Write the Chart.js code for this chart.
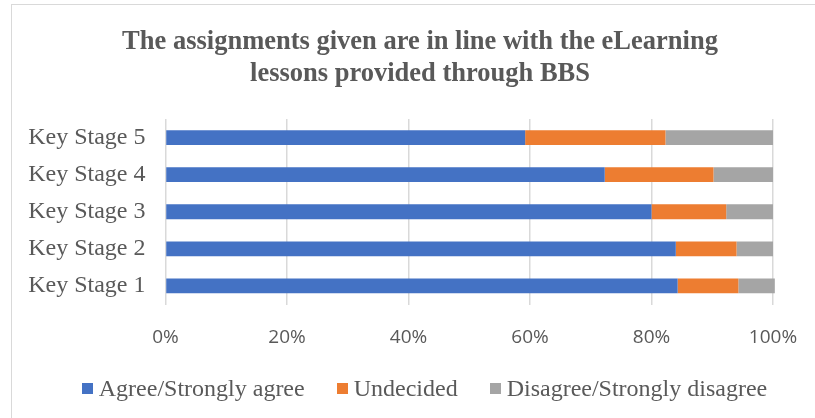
<!DOCTYPE html>
<html>
<head>
<meta charset="utf-8">
<script src="https://cdn.jsdelivr.net/npm/chart.js@4.4.1/dist/chart.umd.min.js"></script>
<style>
  body { margin: 0; background: #fff; overflow: hidden; }
  #frame { position: absolute; left: 11px; top: 4px; width: 900px; height: 500px; border: 1px solid #d9d9d9; }
  #goodCanvas1 { position: absolute; left: 0; top: 0; }
  #legend { position: absolute; left: 0; top: 369px; width: 825px; display: flex; justify-content: center;
            font: 24px 'Liberation Serif', 'Times New Roman', serif; color: #595959; line-height: 28px; }
  #legend .item { display: flex; align-items: center; margin: 0 16px; white-space: nowrap; }
  #legend .box { width: 11px; height: 11px; margin-right: 6px; }
</style>
</head>
<body>
<div id="frame">
  <canvas id="goodCanvas1" width="816" height="413"></canvas>
  <div id="legend"></div>
</div>
<script>
// survey answers per key stage, in percent
const stages = ['Key Stage 1', 'Key Stage 2', 'Key Stage 3', 'Key Stage 4', 'Key Stage 5'];
const agree = [84.3, 84.0, 80.0, 72.3, 59.2];
const undecided = [10.0, 10.0, 12.3, 17.9, 23.1];
const disagree = [6.0, 6.0, 7.7, 9.8, 17.7];
const seriesNames = ['Agree/Strongly agree', 'Undecided', 'Disagree/Strongly disagree'];
const seriesColors = ['#4472C4', '#ED7D31', '#A5A5A5'];
const xTicks = [0, 20, 40, 60, 80, 100];

const grey_text = '#595959';
const serif = "'Liberation Serif', 'Times New Roman', serif";

const data2 = {
  labels: stages,
  datasets: [agree, undecided, disagree].map((vals, i) => ({
    label: seriesNames[i],
    data: vals,
    backgroundColor: seriesColors[i],
    borderWidth: 0,
    barPercentage: 0.8,
    categoryPercentage: 0.5,
    clip: false   // key stage 1 adds up to a bit over 100
  }))
};

const config = {
  type: 'bar',
  data: data2,
  options: {
    indexAxis: 'y',
    animation: false,
    responsive: false,
    layout: { padding: { top: 0, right: 0, left: 0, bottom: 63.5 } },
    plugins: {
      title: {
        display: true,
        text: ['The assignments given are in line with the eLearning', 'lessons provided through BBS'],
        color: grey_text,
        font: { family: serif, size: 26.5, weight: 'bold', lineHeight: 1.2 },
        padding: { top: 21, bottom: 29.4 }
      },
      legend: { display: false },
      tooltip: { enabled: false }
    },
    scales: {
      x: {
        stacked: true,
        min: 0,
        max: 100,
        afterBuildTicks(axis) { axis.ticks = xTicks.map(v => ({ value: v })); },
        afterFit(axis) { axis.height = 50; },
        ticks: {
          color: grey_text,
          font: { family: "'Open Sans', sans-serif", size: 19 },
          padding: 22,
          callback: v => v + '%'
        },
        grid: { color: '#d9d9d9', lineWidth: 1.5, drawTicks: false },
        border: { display: false }
      },
      y: {
        stacked: true,
        reverse: true,
        afterFit(axis) { axis.width = 153.5; },
        ticks: {
          color: grey_text,
          font: { family: serif, size: 24 },
          padding: 20
        },
        grid: { display: false, drawTicks: false },
        border: { display: false }
      },
      // empty strip on the right so the plot ends short of the frame while the title stays centred
      rightGap: {
        type: 'linear',
        axis: 'y',
        position: 'right',
        afterFit(axis) { axis.width = 55; },
        ticks: { display: false },
        grid: { display: false, drawTicks: false },
        border: { display: false }
      }
    }
  }
};

const chart = new Chart(document.getElementById('goodCanvas1'), config);

// legend row under the chart, one entry per dataset
const legendDiv = document.getElementById('legend');
chart.data.datasets.forEach(ds => {
  const item = document.createElement('span');
  item.className = 'item';
  const box = document.createElement('span');
  box.className = 'box';
  box.style.background = ds.backgroundColor;
  item.appendChild(box);
  item.appendChild(document.createTextNode(ds.label));
  legendDiv.appendChild(item);
});
</script>
</body>
</html>
